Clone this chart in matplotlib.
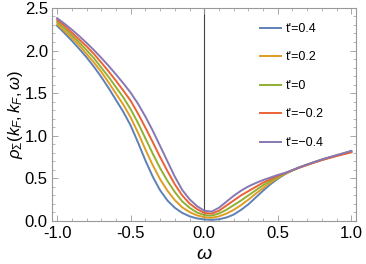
import matplotlib
matplotlib.use("Agg")
import matplotlib.pyplot as plt
from matplotlib.ticker import MultipleLocator, FormatStrFormatter

plt.rcParams["font.family"] = ["Liberation Sans", "DejaVu Sans"]
plt.rcParams["mathtext.fontset"] = "custom"
plt.rcParams["mathtext.it"] = "Liberation Sans:italic"
plt.rcParams["mathtext.rm"] = "Liberation Sans"
plt.rcParams["axes.unicode_minus"] = True

# omega grid (step 0.05) and spectral function for each t'
omega = [-1.00, -0.95, -0.90, -0.85, -0.80, -0.75, -0.70, -0.65, -0.60, -0.55,
         -0.50, -0.45, -0.40, -0.35, -0.30, -0.25, -0.20, -0.15, -0.10, -0.05,
         0.00, 0.05, 0.10, 0.15, 0.20, 0.25, 0.30, 0.35, 0.40, 0.45,
         0.50, 0.55, 0.60, 0.65, 0.70, 0.75, 0.80, 0.85, 0.90, 0.95, 1.00]
rho_p04 = [2.29, 2.205, 2.115, 2.02, 1.92, 1.81, 1.69, 1.56, 1.42, 1.28,
           1.12, 0.92, 0.71, 0.52, 0.36, 0.24, 0.155, 0.095, 0.055, 0.03,
           0.018, 0.013, 0.02, 0.04, 0.075, 0.13, 0.195, 0.275, 0.355, 0.43,
           0.495, 0.55, 0.595, 0.63, 0.66, 0.69, 0.72, 0.745, 0.77, 0.795, 0.82]
rho_p02 = [2.31, 2.23, 2.15, 2.06, 1.96, 1.86, 1.75, 1.625, 1.495, 1.365,
           1.215, 1.035, 0.84, 0.655, 0.49, 0.355, 0.245, 0.16, 0.105, 0.066,
           0.044, 0.037, 0.054, 0.086, 0.13, 0.186, 0.25, 0.32, 0.386, 0.45,
           0.506, 0.554, 0.595, 0.63, 0.66, 0.69, 0.718, 0.743, 0.767, 0.79, 0.812]
rho_0 = [2.335, 2.26, 2.18, 2.095, 2.005, 1.91, 1.80, 1.69, 1.57, 1.45,
         1.31, 1.15, 0.97, 0.79, 0.62, 0.47, 0.34, 0.23, 0.155, 0.10,
         0.069, 0.062, 0.088, 0.13, 0.185, 0.24, 0.30, 0.36, 0.42, 0.47,
         0.518, 0.558, 0.595, 0.63, 0.66, 0.69, 0.717, 0.742, 0.766, 0.788, 0.81]
rho_m02 = [2.36, 2.29, 2.21, 2.13, 2.05, 1.96, 1.86, 1.755, 1.645, 1.53,
           1.41, 1.26, 1.095, 0.925, 0.75, 0.585, 0.43, 0.30, 0.205, 0.14,
           0.094, 0.086, 0.12, 0.18, 0.24, 0.30, 0.35, 0.40, 0.45, 0.49,
           0.53, 0.561, 0.595, 0.628, 0.658, 0.687, 0.714, 0.739, 0.762, 0.784, 0.805]
rho_m04 = [2.38, 2.315, 2.245, 2.17, 2.09, 2.005, 1.915, 1.82, 1.72, 1.615,
           1.505, 1.375, 1.225, 1.06, 0.88, 0.70, 0.52, 0.365, 0.255, 0.175,
           0.12, 0.11, 0.155, 0.225, 0.295, 0.355, 0.405, 0.445, 0.48, 0.51,
           0.54, 0.565, 0.597, 0.632, 0.663, 0.693, 0.722, 0.748, 0.773, 0.797, 0.822]

labels = ["t'=0.4", "t'=0.2", "t'=0", "t'=\u22120.2", "t'=\u22120.4"]
colors = ["#5E81B5", "#E19C24", "#8FB032", "#EB6235", "#8778B3"]
series = [rho_p04, rho_p02, rho_0, rho_m02, rho_m04]

fig = plt.figure(figsize=(3.66, 2.64), dpi=100)
ax = fig.add_axes([0.142, 0.163, 0.830, 0.807])

ax.axvline(0, color="#444444", lw=0.8, zorder=1)
for vals, c, lab in zip(series, colors, labels):
    ax.plot(omega, vals, color=c, lw=1.4, label=lab, zorder=2,
            solid_joinstyle="round")

ax.set_xlim(-1.035, 1.03)
ax.set_ylim(0, 2.5)
ax.xaxis.set_major_locator(MultipleLocator(0.5))
ax.xaxis.set_minor_locator(MultipleLocator(0.1))
ax.yaxis.set_major_locator(MultipleLocator(0.5))
ax.yaxis.set_minor_locator(MultipleLocator(0.1))
ax.xaxis.set_major_formatter(FormatStrFormatter("%.1f"))
ax.yaxis.set_major_formatter(FormatStrFormatter("%.1f"))
ax.tick_params(which="both", direction="in", top=True, right=True,
               color="#999999", labelsize=12)
ax.tick_params(axis="x", pad=3.5)
ax.tick_params(axis="y", pad=3)
ax.tick_params(which="major", length=4.5, width=0.6)
ax.tick_params(which="minor", length=2.5, width=0.5)
for s in ax.spines.values():
    s.set_color("#999999")
    s.set_linewidth(0.8)

ax.set_xlabel(r"$\omega$", fontsize=14, labelpad=4)
ax.set_ylabel(r"$\rho_\Sigma(k_F,k_F,\omega)$", fontsize=12, labelpad=0)

ax.legend(loc="upper left", bbox_to_anchor=(260 / 366, 0.913),
          bbox_transform=fig.transFigure, frameon=False, fontsize=9,
          handlelength=1.7, handletextpad=0.4, labelspacing=1.32,
          borderpad=0, borderaxespad=0)

fig.savefig("out.png", dpi=100)
